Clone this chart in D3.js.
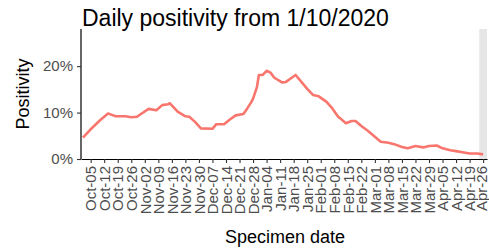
<!DOCTYPE html>
<html><head><meta charset="utf-8">
<script src="https://cdn.jsdelivr.net/npm/d3@7"></script>
<style>body{margin:0;background:#fff}svg{display:block}text{font-family:"Liberation Sans",Arial,sans-serif}</style>
</head><body><div id="chart"></div>
<script>
// Data: date (yyyy-mm-dd) and positivity (fraction)
const dates = ["2020-10-01","2020-10-05","2020-10-10","2020-10-14","2020-10-16","2020-10-18","2020-10-23","2020-10-26","2020-10-29","2020-10-31",
"2020-11-04","2020-11-08","2020-11-11","2020-11-14","2020-11-15","2020-11-19","2020-11-23","2020-11-25","2020-11-28",
"2020-12-01","2020-12-07","2020-12-09","2020-12-13","2020-12-16","2020-12-19","2020-12-23","2020-12-25","2020-12-27","2020-12-28","2020-12-30","2020-12-31",
"2021-01-02","2021-01-04","2021-01-06","2021-01-08","2021-01-12","2021-01-14","2021-01-17","2021-01-19","2021-01-22","2021-01-25","2021-01-28","2021-01-31",
"2021-02-04","2021-02-07","2021-02-10","2021-02-11","2021-02-14","2021-02-17","2021-02-19","2021-02-22","2021-02-25",
"2021-03-01","2021-03-04","2021-03-08","2021-03-11","2021-03-15","2021-03-18","2021-03-22","2021-03-26","2021-03-29",
"2021-04-02","2021-04-05","2021-04-09","2021-04-12","2021-04-16","2021-04-19","2021-04-23","2021-04-26"];
const positivity = [4.6,6.4,8.4,9.8,9.5,9.2,9.2,9.0,9.1,9.7,
10.8,10.5,11.6,11.8,12.0,10.2,9.2,9.1,8.0,
6.6,6.5,7.5,7.5,8.5,9.4,9.7,10.9,12.2,13.0,15.5,18.1,
18.1,19.0,18.6,17.5,16.5,16.6,17.5,18.1,16.6,15.1,13.8,13.5,
12.3,10.9,9.1,8.8,7.7,8.2,8.2,7.1,6.2,
4.8,3.7,3.5,3.2,2.6,2.3,2.8,2.5,2.8,
2.9,2.3,1.9,1.7,1.4,1.2,1.2,1.0].map(v => v/100);
const xDomain = ["2020-09-30","2021-04-28"];
const shadedRange = ["2021-04-24","2021-04-28"];
const tickStart = "2020-10-05", tickEnd = "2021-04-26";
const yTicks = [0, 0.1, 0.2];
const yMax = 0.28;
const title = "Daily positivity from 1/10/2020";
const xTitle = "Specimen date", yTitle = "Positivity";

const W = 489, H = 249;
const m = {l:81, r:2, t:29, b:90};
const parse = d3.utcParse("%Y-%m-%d");
const data = dates.map((d,i) => ({date: parse(d), v: positivity[i]}));

const svg = d3.select("#chart").append("svg").attr("width", W).attr("height", H);
const x = d3.scaleUtc().domain(xDomain.map(parse)).range([m.l, W - m.r]);
const y = d3.scaleLinear().domain([0, yMax]).range([H - m.b, m.t]);

// shaded band
svg.append("rect")
  .attr("x", x(parse(shadedRange[0]))).attr("y", y(yMax))
  .attr("width", x(parse(shadedRange[1])) - x(parse(shadedRange[0])))
  .attr("height", y(0) - y(yMax))
  .attr("fill", "#e6e6e6");

// line
svg.append("path").datum(data)
  .attr("fill","none").attr("stroke","#F8766D").attr("stroke-width",2.6)
  .attr("stroke-linejoin","round")
  .attr("d", d3.line().x(d => x(d.date)).y(d => y(d.v)));

// axes
const tickVals = d3.utcMonday.range(parse(tickStart), d3.utcDay.offset(parse(tickEnd),1));
const xAxis = svg.append("g").attr("transform", `translate(0,${y(0)})`)
  .call(d3.axisBottom(x).tickValues(tickVals).tickFormat(d3.utcFormat("%b-%d")).tickSize(4).tickPadding(3).tickSizeOuter(0));
xAxis.selectAll("text")
  .attr("transform","rotate(-90)").attr("text-anchor","end")
  .attr("x",-7).attr("y",0).attr("dy","0.35em")
  .attr("font-size",15).attr("fill","#4d4d4d");
// keep the last rotated label inside the page edge
xAxis.selectAll(".tick text").filter((d,i,n) => i === n.length - 1).attr("y", -2);
const yAxis = svg.append("g").attr("transform", `translate(${m.l},0)`)
  .call(d3.axisLeft(y).tickValues(yTicks).tickFormat(d3.format(".0%")).tickSize(4).tickPadding(4).tickSizeOuter(0));
yAxis.selectAll("text").attr("font-size",15).attr("fill","#4d4d4d");
[xAxis, yAxis].forEach(g => {
  g.select(".domain").attr("stroke","#000").attr("stroke-width",1.2);
  g.selectAll(".tick line").attr("stroke","#333").attr("stroke-width",1.1);
});
yAxis.select(".domain").attr("d", `M0,${y(yMax)}V${y(0)}`);

// titles
svg.append("text").attr("x", m.l + 1).attr("y", 26).attr("font-size", 23).attr("fill","#000").text(title);
svg.append("text").attr("x", (m.l + W - m.r)/2 + 1).attr("y", 243).attr("text-anchor","middle").attr("font-size",18).attr("fill","#000").text(xTitle);
svg.append("text").attr("transform", `translate(29,${(y(0)+y(yMax))/2}) rotate(-90)`).attr("text-anchor","middle").attr("font-size",18).attr("fill","#000").text(yTitle);
</script></body></html>
